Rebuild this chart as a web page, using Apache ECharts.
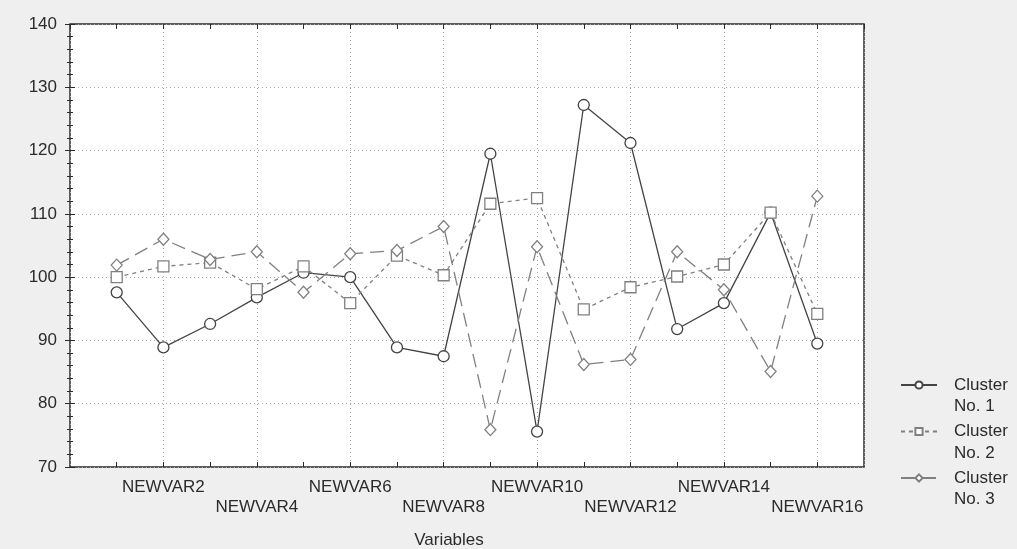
<!DOCTYPE html>
<html>
<head>
<meta charset="utf-8">
<script src="https://cdn.jsdelivr.net/npm/echarts@6/dist/echarts.min.js"></script>
<style>
  html, body { margin: 0; padding: 0; background: #efefef; }
  #chart { width: 1017px; height: 549px; }
</style>
</head>
<body>
<div id="chart"></div>
<script>
const variables = ["NEWVAR1", "NEWVAR2", "NEWVAR3", "NEWVAR4", "NEWVAR5", "NEWVAR6", "NEWVAR7", "NEWVAR8",
  "NEWVAR9", "NEWVAR10", "NEWVAR11", "NEWVAR12", "NEWVAR13", "NEWVAR14", "NEWVAR15", "NEWVAR16"];
const cluster1 = [97.6, 88.9, 92.6, 96.8, 100.7, 100.0, 88.9, 87.5, 119.5, 75.6, 127.2, 121.2, 91.8, 95.9, 110.2, 89.5];
const cluster2 = [100.0, 101.7, 102.3, 98.1, 101.7, 95.9, 103.4, 100.3, 111.6, 112.5, 94.9, 98.4, 100.1, 102.0, 110.2, 94.2];
const cluster3 = [101.9, 106.0, 102.8, 104.0, 97.6, 103.7, 104.2, 108.0, 75.9, 104.8, 86.2, 87.0, 104.0, 98.0, 85.1, 112.8];
const clusterNames = ["Cluster No. 1", "Cluster No. 2", "Cluster No. 3"];
const yTicks = [70, 80, 90, 100, 110, 120, 130, 140];

const pairs = arr => arr.map((v, i) => [i + 1, v]);

const chart = echarts.init(document.getElementById("chart"));
const fontFamily = "Liberation Sans, Arial, sans-serif";
const axisColor = "#2a2a2a";
const textColor = "#2b2b2b";

// one legend per item; the empty first line keeps "Cluster" level with the icon
const legendIconY = [385, 431.5, 478];
const legends = clusterNames.map((name, i) => ({
  orient: "vertical",
  left: 900,
  top: legendIconY[i] - 32.25,
  padding: 0,
  itemWidth: 36,
  itemHeight: 9,
  data: [name],
  formatter: n => "\n" + n.replace(" No", "\nNo"),
  textStyle: { fontFamily, fontSize: 17, color: textColor, lineHeight: 21.5, padding: [0, 0, 0, 12] }
}));

const option = {
  backgroundColor: "#efefef",
  animation: false,
  grid: {
    left: 70, right: 153, top: 24, bottom: 82,
    outerBoundsMode: "none", containLabel: false,
    show: true, backgroundColor: "#ffffff", borderColor: axisColor, borderWidth: 1.5
  },
  legend: legends,
  xAxis: [
    {
      type: "value", min: 0, max: 17, interval: 1,
      name: "Variables", nameLocation: "middle", nameGap: 65,
      nameTextStyle: { fontFamily, fontSize: 17, color: textColor, padding: [0, 36, 0, 0] },
      axisLine: { show: false },
      axisTick: { show: true, inside: true, length: 5, lineStyle: { color: axisColor } },
      splitLine: { show: false },
      axisLabel: {
        fontFamily, fontSize: 17, color: textColor, lineHeight: 20.5, margin: 10,
        showMinLabel: false, showMaxLabel: false,
        formatter: v => {
          if (v < 1 || v > 16 || v % 2 !== 0) return "";
          const name = variables[v - 1];
          return v % 4 === 0 ? "\n" + name : name;
        }
      }
    },
    {
      type: "value", min: 0, max: 17, interval: 1, position: "top",
      axisLine: { show: false }, axisLabel: { show: false },
      axisTick: { show: true, inside: true, length: 5, lineStyle: { color: axisColor } },
      splitLine: { show: false }
    },
    {
      type: "value", min: 0, max: 17, interval: 2, position: "bottom",
      axisLine: { show: false }, axisLabel: { show: false }, axisTick: { show: false },
      splitLine: { show: true, lineStyle: { color: "#a8a8a8", type: [1, 3], width: 1 } }
    }
  ],
  yAxis: [
    {
      type: "value", min: yTicks[0], max: yTicks[yTicks.length - 1], interval: 10,
      axisLine: { show: false },
      axisTick: { show: true, inside: true, length: 5, lineStyle: { color: axisColor } },
      minorTick: { show: true, splitNumber: 5, length: 3, lineStyle: { color: axisColor } },
      splitLine: { show: true, lineStyle: { color: "#a8a8a8", type: [1, 3], width: 1 } },
      axisLabel: { fontFamily, fontSize: 17, color: textColor, margin: 13 }
    },
    {
      type: "value", min: yTicks[0], max: yTicks[yTicks.length - 1], interval: 10, position: "right",
      axisLine: { show: false }, axisLabel: { show: false },
      axisTick: { show: true, inside: true, length: 5, lineStyle: { color: axisColor } },
      minorTick: { show: true, splitNumber: 5, length: 3, lineStyle: { color: axisColor } },
      splitLine: { show: false }
    }
  ],
  series: [
    {
      name: clusterNames[0], type: "line", data: pairs(cluster1),
      symbol: "circle", symbolSize: 11,
      lineStyle: { color: "#444444", width: 1.3, type: "solid" },
      itemStyle: { color: "#ffffff", borderColor: "#444444", borderWidth: 1.3 }
    },
    {
      name: clusterNames[1], type: "line", data: pairs(cluster2),
      symbol: "rect", symbolSize: 11,
      lineStyle: { color: "#808080", width: 1.3, type: [4, 4] },
      itemStyle: { color: "#ffffff", borderColor: "#808080", borderWidth: 1.3 }
    },
    {
      name: clusterNames[2], type: "line", data: pairs(cluster3),
      symbol: "diamond", symbolSize: [11, 12],
      lineStyle: { color: "#808080", width: 1.3, type: [14, 7] },
      itemStyle: { color: "#ffffff", borderColor: "#808080", borderWidth: 1.3 }
    }
  ]
};

chart.setOption(option);
</script>
</body>
</html>
